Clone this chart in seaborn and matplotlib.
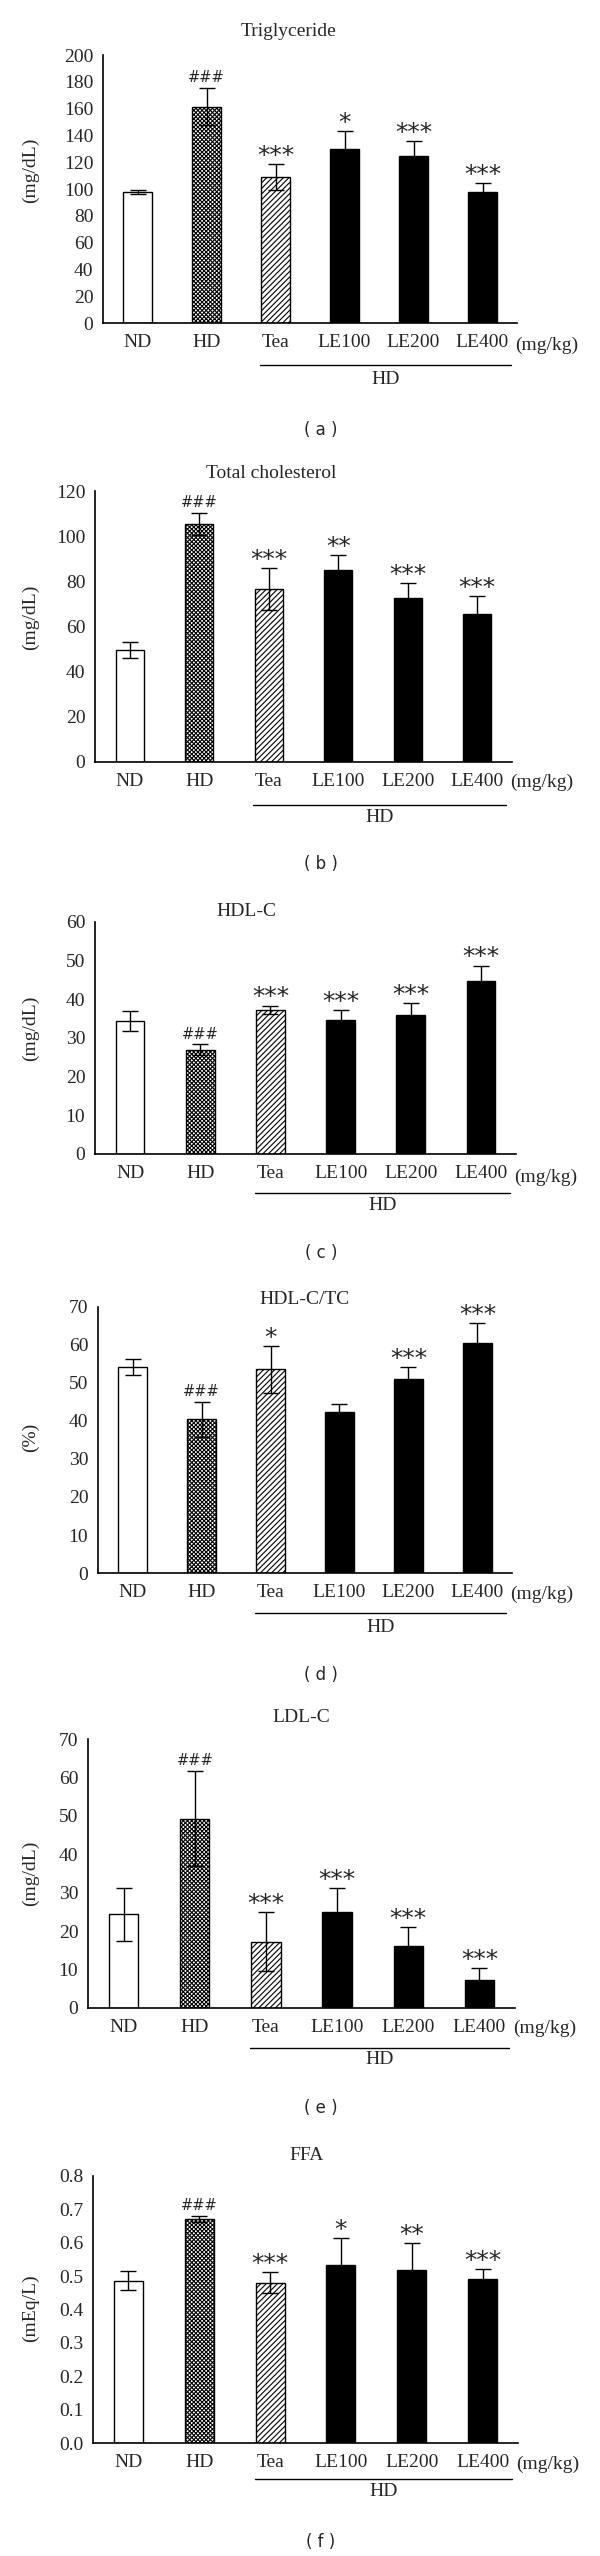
import matplotlib
matplotlib.use("Agg")
import matplotlib.pyplot as plt
import numpy as np
import pandas as pd
import seaborn as sns

sns.set_style("white")
plt.rcParams['font.family'] = ['Liberation Serif', 'DejaVu Serif']
plt.rcParams['hatch.linewidth'] = 0.8

groups = ["ND", "HD", "Tea", "LE100", "LE200", "LE400"]

tg_mean = [97.8, 161.4, 109.0, 129.8, 124.5, 97.8]
tg_err = [1.4, 14.0, 10.0, 13.7, 11.2, 7.0]
tg_sig = ["", "###", "***", "*", "***", "***"]

tc_mean = [49.6, 105.4, 76.6, 85.0, 72.8, 65.4]
tc_err = [3.5, 5.0, 9.4, 6.8, 6.3, 8.3]
tc_sig = ["", "###", "***", "**", "***", "***"]

hdl_mean = [34.4, 27.0, 37.3, 34.6, 36.0, 44.7]
hdl_err = [2.5, 1.4, 1.0, 2.6, 3.0, 4.0]
hdl_sig = ["", "###", "***", "***", "***", "***"]

ratio_mean = [54.2, 40.4, 53.6, 42.5, 51.1, 60.4]
ratio_err = [2.2, 4.6, 6.2, 1.9, 3.2, 5.5]
ratio_sig = ["", "###", "*", "", "***", "***"]

ldl_mean = [24.4, 49.3, 17.3, 25.0, 16.1, 7.2]
ldl_err = [6.9, 12.4, 7.7, 6.3, 5.0, 3.1]
ldl_sig = ["", "###", "***", "***", "***", "***"]

ffa_mean = [0.486, 0.672, 0.480, 0.533, 0.519, 0.490]
ffa_err = [0.028, 0.009, 0.032, 0.082, 0.081, 0.032]
ffa_sig = ["", "###", "***", "*", "**", "***"]

W, H = 600, 2556
fig = plt.figure(figsize=(W / 100, H / 100), dpi=100)

# panel layout in pixels: axes left, right, top, bottom, then text rows
panels = [
    dict(title="Triglyceride", ylab="(mg/dL)", mean=tg_mean, err=tg_err, sig=tg_sig,
         ymax=200, step=20, fmt="{:.0f}", box=(103, 517, 55, 323), tx=289,
         ty=31, ly=170, xl=345, line=365, hd=380, tag="( a )", tagy=430),
    dict(title="Total cholesterol", ylab="(mg/dL)", mean=tc_mean, err=tc_err, sig=tc_sig,
         ymax=120, step=20, fmt="{:.0f}", box=(95, 512, 491, 762), tx=271,
         ty=473, ly=617, xl=782, line=805, hd=817, tag="( b )", tagy=864),
    dict(title="HDL-C", ylab="(mg/dL)", mean=hdl_mean, err=hdl_err, sig=hdl_sig,
         ymax=60, step=10, fmt="{:.0f}", box=(95, 516, 922, 1154), tx=246,
         ty=912, ly=1028, xl=1177, line=1193, hd=1205, tag="( c )", tagy=1253),
    dict(title="HDL-C/TC", ylab="(%)", mean=ratio_mean, err=ratio_err, sig=ratio_sig,
         ymax=70, step=10, fmt="{:.0f}", box=(98, 512, 1307, 1573), tx=305,
         ty=1300, ly=1437, xl=1594, line=1613, hd=1627, tag="( d )", tagy=1675),
    dict(title="LDL-C", ylab="(mg/dL)", mean=ldl_mean, err=ldl_err, sig=ldl_sig,
         ymax=70, step=10, fmt="{:.0f}", box=(88, 515, 1739, 2008), tx=301,
         ty=1717, ly=1873, xl=2028, line=2048, hd=2060, tag="( e )", tagy=2108),
    dict(title="FFA", ylab="(mEq/L)", mean=ffa_mean, err=ffa_err, sig=ffa_sig,
         ymax=0.8, step=0.1, fmt="{:.1f}", box=(93, 518, 2176, 2443), tx=307,
         ty=2155, ly=2308, xl=2464, line=2479, hd=2492, tag="( f )", tagy=2542),
]

faces = ["white", "white", "white", "black", "black", "black"]
hatches = [None, "xxxxxxxx", "//////", None, None, None]
FS = 14


def fx(px):
    return px / W


def fy(py):
    return 1 - py / H


for p in panels:
    l, r, t, b = p["box"]
    ax = fig.add_axes([fx(l), fy(b), fx(r - l), (b - t) / H])
    df = pd.DataFrame({"group": groups, "value": p["mean"]})
    sns.barplot(data=df, x="group", y="value", ax=ax, width=0.41,
                color="white", edgecolor="black", linewidth=1.0, errorbar=None)
    for patch, fc, ht in zip(ax.patches, faces, hatches):
        patch.set_facecolor(fc)
        if ht:
            patch.set_hatch(ht)
    xs = np.arange(len(groups))
    ax.errorbar(xs, p["mean"], yerr=p["err"], fmt="none", ecolor="black",
                elinewidth=1.0, capsize=6, capthick=1.0, zorder=5)
    ymax = p["ymax"]
    for x, m, e, s in zip(xs, p["mean"], p["err"], p["sig"]):
        if not s:
            continue
        if s.startswith("#"):
            ax.text(x, m + e + ymax * 0.01, s, ha="center", va="bottom",
                    fontsize=10.5, family=["DejaVu Sans"])
        else:
            ax.text(x, m + e - ymax * 0.015, s, ha="center", va="bottom",
                    fontsize=18, family=["DejaVu Sans"])
    ax.set_xlim(-0.5, 5.5)
    ax.set_ylim(0, ymax)
    ticks = np.arange(0, ymax + p["step"] / 2, p["step"])
    ax.set_yticks(ticks)
    ax.set_yticklabels([p["fmt"].format(v) for v in ticks], fontsize=FS)
    ax.set_xticks(np.arange(-0.5, 6, 1.0))
    ax.set_xticklabels([])
    ax.set_xticks(xs, minor=True)
    ax.set_xticklabels(groups, minor=True, fontsize=FS)
    ax.tick_params(axis="x", which="major", direction="out", length=5, width=1.0, color="black")
    ax.tick_params(axis="x", which="minor", length=0, pad=8)
    ax.tick_params(axis="y", direction="out", length=5, width=1.0, color="black", pad=2)
    ax.set_xlabel("")
    ax.set_ylabel("")
    sns.despine(ax=ax)
    for sp in ["left", "bottom"]:
        ax.spines[sp].set_color("black")
        ax.spines[sp].set_linewidth(1.2)

    fig.text(fx(p["tx"]), fy(p["ty"]), p["title"], ha="center", va="center", fontsize=FS)
    fig.text(fx(30), fy(p["ly"]), p["ylab"], ha="center", va="center", fontsize=FS, rotation=90)
    # unit after LE400 label
    unit_x = l + (r - l) * (5.5 + 0.5) / 6.0 - 2
    fig.text(fx(unit_x), fy(p["xl"]), "(mg/kg)", ha="left", va="center", fontsize=FS)
    # bracket line under the HD-treated groups
    cw = (r - l) / 6.0
    x0 = l + cw * (1.78 + 0.5)
    x1 = l + cw * (5.42 + 0.5)
    fig.add_artist(plt.Line2D([fx(x0), fx(x1)], [fy(p["line"]), fy(p["line"])],
                              color="black", linewidth=1.0))
    fig.text(fx((x0 + x1) / 2), fy(p["hd"]), "HD", ha="center", va="center", fontsize=FS)
    fig.text(fx(321), fy(p["tagy"]), p["tag"], ha="center", va="center",
             fontsize=12, family=["DejaVu Sans"])

fig.savefig("out.png", dpi=100, facecolor="white")
